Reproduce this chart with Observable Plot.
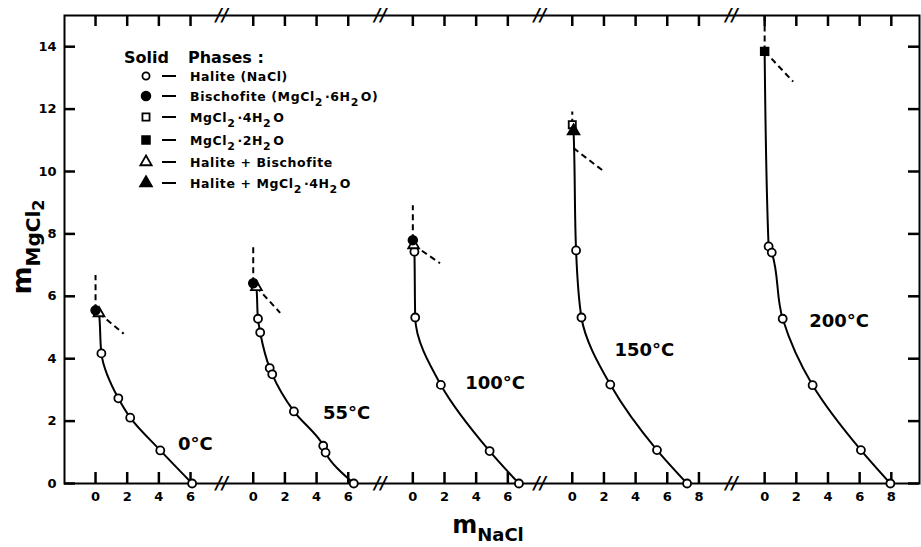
<!DOCTYPE html>
<html>
<head>
<meta charset="utf-8">
<script src="https://cdn.jsdelivr.net/npm/d3@7"></script>
<script src="https://cdn.jsdelivr.net/npm/@observablehq/plot@0.6"></script>
<style>
  html, body { margin: 0; padding: 0; background: #fff; }
  #chart { width: 921px; height: 547px; }
</style>
</head>
<body>
<div id="chart"></div>
<script>
// Solubility in the NaCl–MgCl2–H2O system at five temperatures (molalities).
const temperatures = ["0°C", "55°C", "100°C", "150°C", "200°C"];
const naclTicks = [[0, 2, 4, 6], [0, 2, 4, 6], [0, 2, 4, 6], [0, 2, 4, 6, 8], [0, 2, 4, 6, 8]];
const mgcl2Ticks = [0, 2, 4, 6, 8, 10, 12, 14];

// Saturated solutions: [panel, m NaCl, m MgCl2]
const halite = [
  [0, 0.37, 4.17], [0, 1.44, 2.73], [0, 2.19, 2.11], [0, 4.09, 1.06], [0, 6.1, 0],
  [1, 0.3, 5.28], [1, 0.44, 4.84], [1, 1.04, 3.7], [1, 1.2, 3.5], [1, 2.57, 2.31],
  [1, 4.42, 1.21], [1, 4.57, 0.99], [1, 6.35, 0],
  [2, 0.1, 7.43], [2, 0.15, 5.32], [2, 1.77, 3.16], [2, 4.85, 1.04], [2, 6.7, 0],
  [3, 0.24, 7.47], [3, 0.58, 5.32], [3, 2.4, 3.17], [3, 5.35, 1.07], [3, 7.25, 0],
  [4, 0.25, 7.6], [4, 0.45, 7.4], [4, 1.14, 5.28], [4, 3.03, 3.15], [4, 6.08, 1.07], [4, 7.94, 0]
];
const bischofite = [[0, 0, 5.55], [1, 0, 6.42], [2, 0, 7.8]];
const mgcl2Tetrahydrate = [[3, 0, 11.5]];
const mgcl2Dihydrate = [[4, 0, 13.85]];
const haliteBischofite = [[0, 0.22, 5.46], [1, 0.2, 6.3], [2, 0.05, 7.64]];
const haliteTetrahydrate = [[3, 0.08, 11.3]];

// Dashed branches: [panel, x1, y1, x2, y2]
const mgcl2Branch = [
  [0, 0, 5.55, 0, 6.68], [1, 0, 6.42, 0, 7.64], [2, 0, 7.8, 0, 8.92],
  [3, 0, 11.5, 0, 11.92], [4, 0, 13.85, 0, 15]
];
const metastableBranch = [
  [0, 0.22, 5.46, 1.78, 4.8], [1, 0.2, 6.3, 1.7, 5.47], [2, 0.05, 7.64, 1.72, 7.06],
  [3, 0.08, 10.75, 1.93, 10.03], [4, 0, 13.85, 1.8, 12.88]
];

// Layout: where each panel's NaCl origin sits on the shared broken axis,
// and where each temperature label is anchored (in panel units).
const panelStart = [1.96, 11.92, 22.0, 32.07, 44.22];
const labelAt = [[6.3, 1.25], [5.9, 2.25], [5.2, 3.2], [4.55, 4.27], [4.7, 5.2]];

const W = 921, H = 547;
const mLeft = 64, mRight = 2, mTop = 15, mBottom = 64;
const xMax = 54, yMax = 15;
const tickPx = 11;
const tx = tickPx * xMax / (W - mLeft - mRight);   // tick length in x units
const ty = tickPx * yMax / (H - mTop - mBottom);   // tick length in y units

const X = d => panelStart[d[0]] + d[1];
const xTicks = naclTicks.flatMap((ts, p) => ts.map(t => ({v: panelStart[p] + t, label: String(t)})));
const xTickValues = xTicks.map(t => t.v);
const tickLabel = new Map(xTicks.map(t => [t.v, t.label]));
const breaks = panelStart.slice(1).map((s, i) => (panelStart[i] + d3.max(naclTicks[i]) + s) / 2);

const saturation = [...bischofite, ...mgcl2Tetrahydrate, ...mgcl2Dihydrate,
  ...haliteBischofite, ...haliteTetrahydrate, ...halite];
const curves = d3.groups(saturation, d => d[0])
  .flatMap(([, pts]) => pts.slice().sort((a, b) => b[2] - a[2]));

const labels = temperatures.map((t, i) => [i, labelAt[i][0], labelAt[i][1], t]);

const ink = "#000";
const plot = Plot.plot({
  width: W,
  height: H,
  marginLeft: mLeft,
  marginRight: mRight,
  marginTop: mTop,
  marginBottom: mBottom,
  style: "font-family: 'DejaVu Sans', sans-serif; font-size: 13px; font-weight: bold; background: #fff; color: #000;",
  x: {domain: [0, xMax]},
  y: {domain: [0, yMax]},
  marks: [
    Plot.frame({stroke: ink, strokeWidth: 2}),
    // inward ticks on all four sides
    Plot.ruleY(mgcl2Ticks, {y: d => d, x1: () => 0, x2: () => tx, stroke: ink, strokeWidth: 2.5}),
    Plot.ruleY(mgcl2Ticks, {y: d => d, x1: () => xMax - tx, x2: () => xMax, stroke: ink, strokeWidth: 2.5}),
    Plot.ruleX(xTickValues, {x: d => d, y1: () => 0, y2: () => ty, stroke: ink, strokeWidth: 2.5}),
    Plot.ruleX(xTickValues, {x: d => d, y1: () => yMax - ty, y2: () => yMax, stroke: ink, strokeWidth: 2.5}),
    // tick labels
    Plot.axisY(mgcl2Ticks, {anchor: "left", tickSize: 0, tickPadding: 8, fontSize: 13, label: null}),
    Plot.axisX(xTickValues, {anchor: "bottom", tickSize: 0, tickPadding: 8, fontSize: 13,
      tickFormat: d => tickLabel.get(d), label: null}),
    // axis breaks
    Plot.text(breaks, {x: d => d, y: () => 0, text: () => "//", fontSize: 17, fontWeight: "bold", fontStyle: "italic"}),
    Plot.text(breaks, {x: d => d, y: () => yMax, text: () => "//", fontSize: 17, fontWeight: "bold", fontStyle: "italic"}),
    Plot.line(curves, {x: X, y: d => d[2], z: d => d[0], curve: "monotone-y", stroke: ink, strokeWidth: 2}),
    Plot.link(mgcl2Branch, {x1: X, y1: d => d[2], x2: d => panelStart[d[0]] + d[3], y2: d => d[4],
      stroke: ink, strokeWidth: 2, strokeDasharray: "6,4"}),
    Plot.link(metastableBranch, {x1: X, y1: d => d[2], x2: d => panelStart[d[0]] + d[3], y2: d => d[4],
      stroke: ink, strokeWidth: 2, strokeDasharray: "6,4"}),
    Plot.dot(halite, {x: X, y: d => d[2], r: 4, fill: "#fff", stroke: ink, strokeWidth: 1.8}),
    Plot.dot(haliteBischofite, {x: X, y: d => d[2], symbol: "triangle", r: 4, fill: "#fff", stroke: ink, strokeWidth: 1.8}),
    Plot.dot(bischofite, {x: X, y: d => d[2], r: 4.5, fill: ink, stroke: ink}),
    Plot.dot(mgcl2Tetrahydrate, {x: X, y: d => d[2], symbol: "square", r: 4, fill: "#fff", stroke: ink, strokeWidth: 1.8}),
    Plot.dot(haliteTetrahydrate, {x: X, y: d => d[2], symbol: "triangle", r: 4.5, fill: ink, stroke: ink}),
    Plot.dot(mgcl2Dihydrate, {x: X, y: d => d[2], symbol: "square", r: 4.5, fill: ink, stroke: ink}),
    Plot.text(labels, {x: X, y: d => d[2], text: d => d[3], fontSize: 18, fontWeight: "bold"})
  ]
});
document.getElementById("chart").appendChild(plot);

const svg = d3.select(plot);

// Rich text with "_n" subscripts
function richText(sel, str, base, sub, shift) {
  const parts = str.split(/_(\d)/);
  parts.forEach((p, i) => {
    if (!p) return;
    if (i % 2 === 1) {
      sel.append("tspan").attr("font-size", sub).attr("dy", shift).text(p);
      sel.append("tspan").attr("font-size", base).attr("dy", -shift).text("\u200A");
    } else {
      sel.append("tspan").attr("font-size", base).text(p);
    }
  });
}

// Legend of solid phases
const legendRows = [
  {symbol: d3.symbolCircle, size: 40, filled: false, text: "Halite (NaCl)"},
  {symbol: d3.symbolCircle, size: 60, filled: true, text: "Bischofite (MgCl_2·6H_2O)"},
  {symbol: d3.symbolSquare, size: 50, filled: false, text: "MgCl_2·4H_2O"},
  {symbol: d3.symbolSquare, size: 60, filled: true, text: "MgCl_2·2H_2O"},
  {symbol: d3.symbolTriangle, size: 55, filled: false, text: "Halite + Bischofite"},
  {symbol: d3.symbolTriangle, size: 60, filled: true, text: "Halite + MgCl_2·4H_2O"}
];
const rowY = [76, 96, 117, 140, 162, 183];
const legend = svg.append("g")
  .attr("font-family", "'DejaVu Sans', sans-serif")
  .attr("font-weight", "bold")
  .attr("text-anchor", "start");
legend.append("text").attr("x", 124).attr("y", 63).attr("font-size", 16).text("Solid");
legend.append("text").attr("x", 188).attr("y", 63).attr("font-size", 16).text("Phases :");
legendRows.forEach((r, i) => {
  const y = rowY[i];
  legend.append("path")
    .attr("transform", `translate(146,${y})`)
    .attr("d", d3.symbol(r.symbol, r.size)())
    .attr("fill", r.filled ? ink : "#fff")
    .attr("stroke", ink).attr("stroke-width", 1.8);
  legend.append("rect").attr("x", 162).attr("y", y - 1).attr("width", 14).attr("height", 2).attr("fill", ink);
  const t = legend.append("text").attr("x", 190).attr("y", y + 5).attr("letter-spacing", 0.6);
  richText(t, r.text, 12.5, 11, 5);
});

// Axis titles
const yTitle = svg.append("text")
  .attr("transform", "translate(31,247) rotate(-90)")
  .attr("text-anchor", "middle")
  .attr("font-family", "'DejaVu Sans', sans-serif")
  .attr("font-weight", "bold");
yTitle.append("tspan").attr("font-size", 27).text("m");
yTitle.append("tspan").attr("font-size", 20).attr("dy", 9).text("MgCl");
yTitle.append("tspan").attr("font-size", 16).attr("dy", 4).text("2");

const xTitle = svg.append("text")
  .attr("x", 488).attr("y", 533)
  .attr("text-anchor", "middle")
  .attr("font-family", "'DejaVu Sans', sans-serif")
  .attr("font-weight", "bold");
xTitle.append("tspan").attr("font-size", 24).text("m");
xTitle.append("tspan").attr("font-size", 18).attr("dy", 8).text("NaCl");
</script>
</body>
</html>
